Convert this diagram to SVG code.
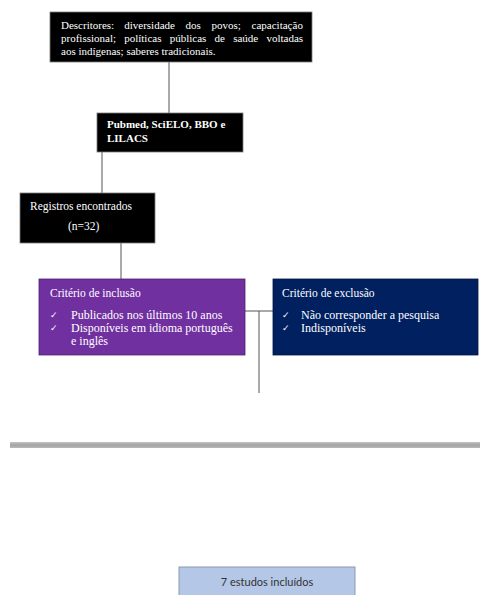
<svg xmlns="http://www.w3.org/2000/svg" width="480" height="595" viewBox="0 0 480 595">
  <defs>
    <linearGradient id="barGrad" x1="0" y1="0" x2="0" y2="1">
      <stop offset="0" stop-color="#c4c4c4"/>
      <stop offset="0.5" stop-color="#a3a3a3"/>
      <stop offset="1" stop-color="#b8b8b8"/>
    </linearGradient>
  </defs>
  <style>
    .dark { fill: #000000; stroke: #7a7a7a; stroke-width: 0.8; }
    .serif { font-family: "Liberation Serif", "Times New Roman", serif; fill: #ffffff; }
    .t11 { font-size: 11px; }
    .t115 { font-size: 11.5px; }
    .t12 { font-size: 12px; }
    .chk { font-family: "DejaVu Sans", sans-serif; font-size: 9px; fill: #ffffff; }
    .conn { stroke: #555555; stroke-width: 1; fill: none; }
  </style>
  <rect width="480" height="595" fill="#ffffff"/>

  <!-- connectors -->
  <g id="connectors">
    <line class="conn" x1="169" y1="62" x2="169" y2="113"/>
    <line class="conn" x1="102" y1="152" x2="102" y2="193"/>
    <line class="conn" x1="121" y1="243" x2="121" y2="279"/>
    <line class="conn" x1="245" y1="311" x2="273" y2="311"/>
    <line class="conn" x1="259" y1="311" x2="259" y2="393"/>
  </g>

  <!-- search descriptors -->
  <g id="descritores">
    <rect class="dark" x="50" y="12" width="262" height="50"/>
    <text class="serif t11" y="29">
      <tspan x="61">Descritores:</tspan>
      <tspan x="124.2">diversidade</tspan>
      <tspan x="185.6">dos</tspan>
      <tspan x="211.6">povos;</tspan>
      <tspan x="251.6">capacitação</tspan>
    </text>
    <text class="serif t11" y="42">
      <tspan x="61">profissional;</tspan>
      <tspan x="124.2">políticas</tspan>
      <tspan x="169.7">públicas</tspan>
      <tspan x="214.6">de</tspan>
      <tspan x="233.2">saúde</tspan>
      <tspan x="266.4">voltadas</tspan>
    </text>
    <text class="serif t11" x="61" y="55">aos indígenas; saberes tradicionais.</text>
  </g>

  <!-- databases -->
  <g id="bases">
    <rect class="dark" x="97" y="113" width="146" height="39"/>
    <text class="serif t11" font-weight="bold" x="107" y="128">Pubmed, SciELO, BBO e</text>
    <text class="serif t11" font-weight="bold" x="107" y="142">LILACS</text>
  </g>

  <!-- records found -->
  <g id="registros">
    <rect class="dark" x="20" y="193" width="135" height="50"/>
    <text class="serif t115" x="30" y="210">Registros encontrados</text>
    <text class="serif t115" x="68" y="230">(n=32)</text>
  </g>

  <!-- inclusion criteria -->
  <g id="inclusao">
    <rect x="39" y="279" width="206" height="76" fill="#7030a0" stroke="#4f2270" stroke-width="0.8"/>
    <text class="serif t115" x="50" y="297">Critério de inclusão</text>
    <text class="chk" x="50" y="318">✓</text>
    <text class="serif t12" x="71" y="319">Publicados nos últimos 10 anos</text>
    <text class="chk" x="50" y="331">✓</text>
    <text class="serif t12" x="71" y="332">Disponíveis em idioma português</text>
    <text class="serif t12" x="71" y="345">e inglês</text>
  </g>

  <!-- exclusion criteria -->
  <g id="exclusao">
    <rect x="273" y="279" width="205" height="76" fill="#002060" stroke="#001540" stroke-width="0.8"/>
    <text class="serif t115" x="282" y="297">Critério de exclusão</text>
    <text class="chk" x="282" y="318">✓</text>
    <text class="serif t12" x="301" y="319">Não corresponder a pesquisa</text>
    <text class="chk" x="282" y="331">✓</text>
    <text class="serif t12" x="301" y="332">Indisponíveis</text>
  </g>

  <!-- separator bar -->
  <g id="separador">
    <rect x="10" y="442" width="470" height="6" fill="url(#barGrad)"/>
  </g>

  <!-- included studies -->
  <g id="incluidos">
    <rect x="179" y="567" width="176" height="40" fill="#b4c7e7" stroke="#8a9ab0" stroke-width="1"/>
    <text x="267" y="586" text-anchor="middle" font-family="Lato, 'Open Sans', sans-serif" font-size="11" fill="#333333">7 estudos incluídos</text>
  </g>
</svg>
